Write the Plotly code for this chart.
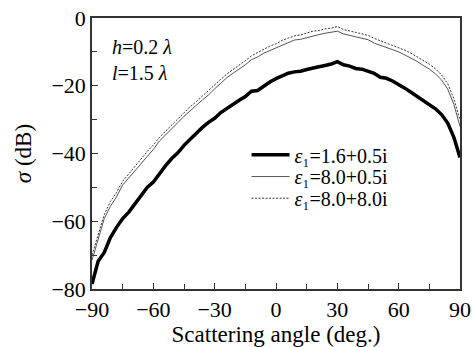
import plotly.graph_objects as go

angles = [-90, -87, -84, -81, -78, -75, -72, -69, -66, -63, -60, -57, -54, -51, -48, -45,
          -42, -39, -36, -33, -30, -27, -24, -21, -18, -15, -12, -9, -6, -3, 0, 3, 6, 9,
          12, 15, 18, 21, 24, 27, 30, 33, 36, 39, 42, 45, 48, 51, 54, 57, 60, 63, 66, 69,
          72, 75, 78, 81, 84, 87, 90]

sigma_16_05 = [-78.5, -71.8, -69.2, -64.8, -61.8, -59.2, -57.3, -54.8, -52.4, -50.0, -48.4,
               -45.8, -43.6, -41.5, -39.8, -37.6, -35.8, -33.9, -32.3, -30.8, -29.6, -27.9,
               -26.6, -25.4, -24.3, -23.2, -21.6, -21.4, -20.0, -18.9, -17.9, -17.2, -16.3,
               -15.9, -15.7, -15.2, -14.7, -14.4, -14.0, -13.6, -12.9, -13.8, -14.2, -14.9,
               -15.1, -15.6, -16.3, -17.5, -17.8, -18.6, -19.6, -20.7, -21.9, -23.1, -24.3,
               -25.5, -26.8, -28.5, -31.0, -35.2, -41.2]

sigma_80_05 = [-71.5, -65.2, -59.2, -55.6, -52.8, -49.3, -47.2, -45.0, -42.8, -40.6, -38.8,
               -36.3, -34.6, -32.7, -30.9, -29.0, -27.3, -25.8, -24.2, -22.7, -20.9, -19.2,
               -17.6, -16.3, -15.1, -13.8, -12.3, -11.5, -10.4, -9.6, -8.9, -7.9, -7.2,
               -6.5, -6.3, -5.8, -5.2, -4.9, -4.5, -4.3, -3.9, -4.7, -5.1, -5.4, -5.8, -6.4,
               -7.4, -8.0, -8.6, -9.2, -10.0, -10.9, -11.8, -12.8, -14.0, -15.1, -16.5,
               -18.3, -21.0, -25.5, -32.0]

sigma_80_80 = [-70.0, -63.8, -58.0, -54.2, -51.5, -48.2, -46.0, -43.8, -41.5, -39.4, -37.5,
               -35.2, -33.4, -31.6, -29.7, -27.8, -26.2, -24.7, -23.0, -21.5, -19.8, -18.1,
               -16.5, -15.1, -13.9, -12.6, -11.2, -10.2, -9.2, -8.3, -7.6, -6.6, -5.9, -5.3,
               -5.0, -4.5, -3.9, -3.7, -3.2, -3.0, -2.5, -3.4, -3.8, -4.1, -4.5, -5.1, -6.0,
               -6.7, -7.2, -7.9, -8.6, -9.5, -10.4, -11.4, -12.5, -13.6, -15.0, -16.8,
               -19.4, -23.8, -30.2]

series_names = ["<i>ε</i>₁=1.6+0.5i", "<i>ε</i>₁=8.0+0.5i", "<i>ε</i>₁=8.0+8.0i"]

x_ticks = [-90, -60, -30, 0, 30, 60, 90]
y_ticks = [-80, -60, -40, -20, 0]

FONT = "Liberation Serif, Times New Roman, serif"

fig = go.Figure()
fig.add_trace(go.Scatter(x=angles, y=sigma_16_05, mode="lines",
                         line=dict(color="black", width=3.5),
                         name=series_names[0], legend="legend"))
fig.add_trace(go.Scatter(x=angles, y=sigma_80_05, mode="lines",
                         line=dict(color="#555555", width=1),
                         name=series_names[1], legend="legend2"))
fig.add_trace(go.Scatter(x=angles, y=sigma_80_80, mode="lines",
                         line=dict(color="black", width=0.8, dash="2px,1.5px"),
                         name=series_names[2], legend="legend3"))

fig.add_annotation(xref="paper", yref="paper", x=0.05, y=0.94, xanchor="left", yanchor="top",
                   text="<i>h</i>=0.2 <i>λ</i><br><i>l</i>=1.5 <i>λ</i>", showarrow=False,
                   align="left", font=dict(family=FONT, size=20, color="black"))

axis_common = dict(showline=True, linecolor="#333333", linewidth=1.5, mirror=True,
                   ticks="inside", ticklen=6, tickwidth=1.2, tickcolor="#333333",
                   showgrid=False, zeroline=False, automargin=False,
                   tickfont=dict(family=FONT, size=22, color="black"))

fig.update_xaxes(range=[-90, 90], tickvals=x_ticks, ticktext=[str(v).replace("-", "−") for v in x_ticks],
                 minor=dict(ticks="inside", ticklen=5, dtick=15, tick0=-90, tickcolor="#333333"),
                 title=dict(text="Scattering angle (deg.)", font=dict(family=FONT, size=23, color="black"),
                            standoff=3),
                 **axis_common)
fig.update_yaxes(range=[-80, 0], tickvals=y_ticks, ticktext=[str(v).replace("-", "−") for v in y_ticks],
                 minor=dict(ticks="inside", ticklen=5, dtick=10, tick0=0, tickcolor="#333333"),
                 title=dict(text="<i>σ</i> (dB)", font=dict(family=FONT, size=23, color="black"),
                            standoff=13),
                 **axis_common)

leg_common = dict(xanchor="left", yanchor="middle", bgcolor="rgba(0,0,0,0)", itemwidth=38,
                  font=dict(family=FONT, size=20, color="black"))
fig.update_layout(width=472, height=347, margin=dict(l=92, r=12, t=18, b=58),
                  template="none",
                  plot_bgcolor="white", paper_bgcolor="white",
                  font=dict(family=FONT),
                  showlegend=True,
                  legend=dict(x=0.42, y=0.495, **leg_common),
                  legend2=dict(x=0.42, y=0.415, **leg_common),
                  legend3=dict(x=0.42, y=0.335, **leg_common))

fig.write_html("out.html", config={"displayModeBar": False},
               post_script="document.body.style.margin='0';document.body.style.padding='0';")
